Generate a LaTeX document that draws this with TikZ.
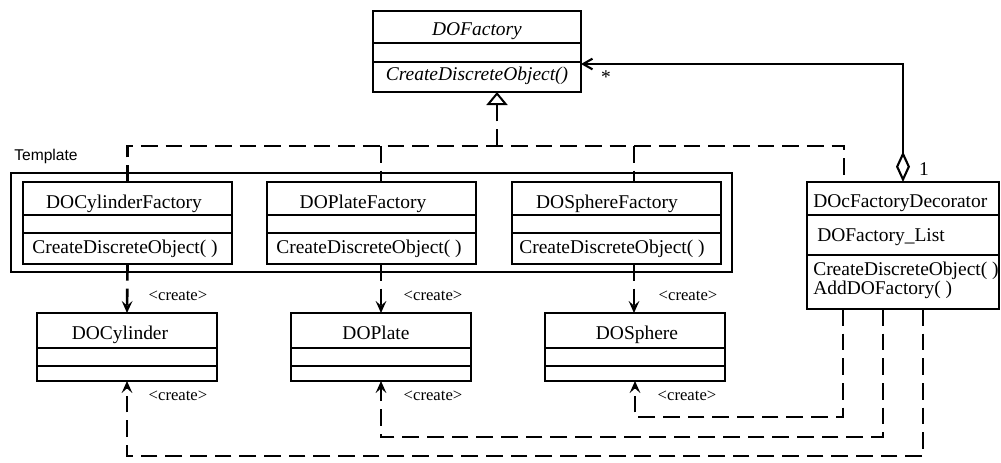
\documentclass[tikz,border=0pt]{standalone}
\usepackage{fontspec}
\setmainfont{Liberation Serif}
\newfontfamily\labelsans{Liberation Sans}
\usetikzlibrary{arrows.meta,fit}

\tikzset{
  box/.style={draw, line width=1.5pt, inner sep=0pt, outer sep=0pt},
  part/.style={line width=1.5pt},
  txt/.style={inner sep=0pt, anchor=base, font=\fontsize{14.6}{17}\selectfont},
  ltxt/.style={txt, anchor=base west},
  itxt/.style={txt, font=\fontsize{14.6}{17}\selectfont\itshape},
  stereo/.style={inner sep=0pt, anchor=base, font=\fontsize{12.5}{14}\selectfont},
  dline/.style={line width=2pt, dash pattern=on 12.5pt off 6pt},
  create/.style={dline, -{Stealth[length=9pt,width=8pt,inset=3.5pt]}},
  realize/.style={dline, -{Triangle[open,length=9.75pt,width=15.75pt,line width=1.5pt]}},
  aggr/.style={line width=1.7pt,
    {Diamond[open,length=23pt,width=10.5pt,line width=1.6pt]}-{Straight Barb[length=7pt,width=8pt,line width=1.6pt]}}
}

\begin{document}
\begin{tikzpicture}[x=0.75pt,y=-0.75pt]
\useasboundingbox (0,0) rectangle (1001,462);

% abstract factory
\node[box, fit={(373,11) (581,92)}] (dof) {};
\draw[part] (dof.west |- 0,43) -- (dof.east |- 0,43);
\draw[part] (dof.west |- 0,62) -- (dof.east |- 0,62);
\node[itxt] (dofname) at (477,35) {DOFactory};
\node[itxt] (dofop) at (477,80) {CreateDiscreteObject()};

% template frame
\node[box, fit={(11,173) (732,272)}] (tmpl) {};
\node[inner sep=0pt, anchor=base west, font=\labelsans\fontsize{11.7}{14}\selectfont] (tmplname) at (14,160) {Template};

% concrete factories
\node[box, fit={(23,182) (232,264)}] (cylf) {};
\draw[part] (cylf.west |- 0,215) -- (cylf.east |- 0,215);
\draw[part] (cylf.west |- 0,233) -- (cylf.east |- 0,233);
\node[txt] (cylfname) at (124,208) {DOCylinderFactory};
\node[txt] (cylfop) at (125,253) {CreateDiscreteObject( )};

\node[box, fit={(267,182) (476,264)}] (platef) {};
\draw[part] (platef.west |- 0,215) -- (platef.east |- 0,215);
\draw[part] (platef.west |- 0,233) -- (platef.east |- 0,233);
\node[txt] (platefname) at (363,208) {DOPlateFactory};
\node[txt] (platefop) at (369,253) {CreateDiscreteObject( )};

\node[box, fit={(512,182) (721,264)}] (spheref) {};
\draw[part] (spheref.west |- 0,215) -- (spheref.east |- 0,215);
\draw[part] (spheref.west |- 0,233) -- (spheref.east |- 0,233);
\node[txt] (spherefname) at (607,208) {DOSphereFactory};
\node[txt] (spherefop) at (612,253) {CreateDiscreteObject( )};

% products
\node[box, fit={(37,313) (217,381)}] (cyl) {};
\draw[part] (cyl.west |- 0,348) -- (cyl.east |- 0,348);
\draw[part] (cyl.west |- 0,366) -- (cyl.east |- 0,366);
\node[txt] (cylname) at (120,339) {DOCylinder};

\node[box, fit={(291,313) (471,381)}] (plate) {};
\draw[part] (plate.west |- 0,348) -- (plate.east |- 0,348);
\draw[part] (plate.west |- 0,366) -- (plate.east |- 0,366);
\node[txt] (platename) at (376,339) {DOPlate};

\node[box, fit={(545,313) (725,381)}] (sphere) {};
\draw[part] (sphere.west |- 0,348) -- (sphere.east |- 0,348);
\draw[part] (sphere.west |- 0,366) -- (sphere.east |- 0,366);
\node[txt] (spherename) at (637,339) {DOSphere};

% decorator
\node[box, fit={(807,182) (999,309)}] (dec) {};
\draw[part] (dec.west |- 0,215) -- (dec.east |- 0,215);
\draw[part] (dec.west |- 0,255) -- (dec.east |- 0,255);
\node[ltxt] (decname) at (813,207) {DOcFactoryDecorator};
\node[ltxt] (decattr) at (817,241) {DOFactory\_List};
\node[ltxt] (decop1) at (813,275) {CreateDiscreteObject( )};
\node[ltxt] (decop2) at (813,294) {AddDOFactory( )};

% realization tree
\coordinate (rj) at (497,146);
\coordinate (pj) at (381,146);
\coordinate (sj) at (634,146);
\coordinate (dj) at (844,146);
\draw[realize] (rj) -- (rj |- dof.south);
\draw[dline] (cylf.north) |- (dj) -- (dj |- dec.north);
\draw[dline] (pj) -- (pj |- platef.north);
\draw[dline] (sj) -- (sj |- spheref.north);

% factory -> product
\draw[create] (cylf.south) -- (cyl.north);
\draw[create] (pj |- platef.south) -- (pj |- plate.north);
\draw[create] (sj |- spheref.south) -- (sj |- sphere.north);
\node[stereo] (c1) at (178,300) {\textless create\textgreater};
\node[stereo] (c2) at (433,300) {\textless create\textgreater};
\node[stereo] (c3) at (688,300) {\textless create\textgreater};

% decorator -> product
\coordinate (d1) at (843,417);
\coordinate (d2) at (883,437);
\coordinate (d3) at (923,456);
\draw[create] (dec.south -| d1) -- (d1) -| (sphere.south);
\draw[create] (dec.south -| d2) -- (d2) -| (plate.south);
\draw[create] (dec.south -| d3) -- (d3) -| (cyl.south);
\node[stereo] (c4) at (178,400) {\textless create\textgreater};
\node[stereo] (c5) at (433,400) {\textless create\textgreater};
\node[stereo] (c6) at (687,400) {\textless create\textgreater};

% aggregation
\coordinate (ag) at (903,64);
\draw[aggr] (dec.north -| ag) -- (ag) -- (ag -| dof.east);
\node[txt] (many) at (606,83) {*};
\node[txt] (one) at (924,175) {1};
\end{tikzpicture}
\end{document}
